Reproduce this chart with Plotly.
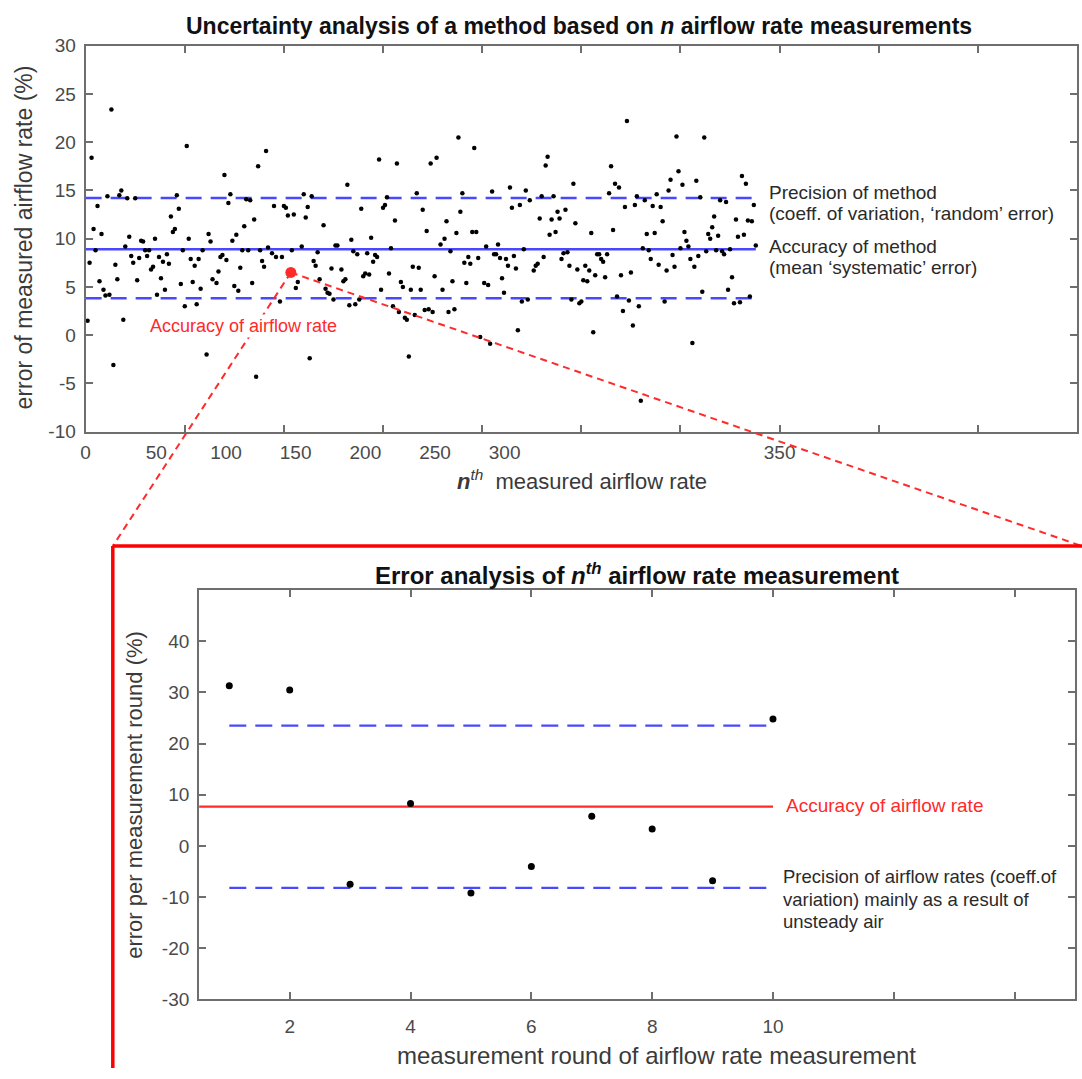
import plotly.graph_objects as go

W, H = 1082, 1079
FONT = "Arial, Liberation Sans, sans-serif"

# ---------------- data: top panel (error of nth measured airflow rate, %) ----------------
# index n = 1..338 ; None = value not readable in the picture
top_err = [
    # n 1-59
    1.5, 7.5, 18.4, 11.0, 8.8, 13.4, 5.6, 10.5, 4.7, 4.1, 14.4, 4.2, 23.4, -3.1, 7.3,
    5.8, 14.5, 15.0, 1.6, 9.2, 14.2, 10.2, 8.2, 7.5, 14.2, 5.7, 8.0, 9.8, 9.7, 8.8,
    8.2, 8.8, 6.8, 7.1, 10.0, 4.2, 8.1, 5.9, 7.6, 4.7, 8.4, 7.4, 12.3, 10.7, 11.0,
    14.5, 13.1, 5.3, 8.8, 3.0, 19.6, 10.0, 7.9, 5.5, 7.2, 3.2, 7.9, 4.8, 8.8,
    # n 60-65
    None, -2.0, 10.5, 9.7, 5.8, None,
    # n 66-92
    5.4, 6.6, 8.1, 8.3, 16.6, 7.8, 13.7, 14.6, 9.8, 5.1, 10.4, 4.6, 7.0, 8.8, 11.3,
    14.1, 8.8, 14.0, 5.4, 12.0, -4.3, 17.5, 8.8, 7.7, 7.1, 19.1, 9.1,
    # n 93-108
    None, 8.5, 13.4, 8.1, None, 3.5, 8.1, 13.4, 13.2, 12.4, None, 8.8, 12.5, 4.9, 5.5, None,
    # n 109-119
    9.2, 14.6, 12.2, 13.3, -2.4, 14.4, 7.7, 7.2, 8.6, 5.8, None,
    # n 120-128
    11.4, 4.8, 4.4, 4.3, 6.9, 3.7, 9.3, 9.3, None,
    # n 129-177
    6.8, 5.6, 5.8, 15.6, 3.1, 9.9, 8.7, 3.2, 8.4, 3.7, 13.1, 6.1, 6.4, 8.5, 6.3,
    10.1, 7.6, 8.3, 8.1, 18.2, 4.7, 13.2, 13.5, 14.3, 6.4, 9.0, 3.0, 11.9, 17.8, 2.4,
    5.5, 5.0, 1.8, 1.6, -2.2, 4.7, 7.1, 2.1, 14.7, 7.0, 4.7, 13.0, 2.6, 10.8, 2.7,
    17.8, 2.4, 6.1, 18.4,
    # n 178-200
    None, 9.4, 4.7, 10.0, 11.8, 2.4, 8.7, 5.6, 2.7, 10.6, 20.5, 12.8, 14.7, 7.5, 5.4,
    8.1, 7.4, 10.7, 19.4, 10.7, 8.0, -0.2, None,
    # n 201-225
    5.4, 9.2, 5.2, -0.9, 14.9, 8.4, 8.4, 9.4, 8.0, 5.9, 4.4, 7.9, 7.2, 15.3, 13.2,
    8.2, 6.9, 0.5, 13.5, 3.5, 8.9, 15.0, 3.7, 14.0, None,
    # n 226-236
    6.7, 7.2, 7.4, 12.1, 14.4, 8.1, 17.6, 18.5, 10.4, 12.0, 14.4,
    # n 237-295
    10.7, 12.8, 12.1, 7.9, 8.5, 13.0, 8.6, 7.2, 3.7, 15.7, 11.6, 6.8, 3.3, 3.5, 5.7,
    7.2, 5.6, 6.7, 10.6, 0.3, 6.2, 8.4, 8.4, 7.9, 7.6, 6.0, 8.4, 14.7, 17.5, 10.9,
    15.7, 4.0, 15.3, 6.2, 2.5, 13.3, 22.2, 3.6, 6.5, 1.0, 13.5, 14.4, 3.0, -6.8, 9.0,
    14.0, 10.5, 8.8, 7.9, 13.4, 10.6, 14.6, 7.3, 13.3, 11.8, 3.5, 6.7, 15.0, 16.1,
    # n 296-338
    8.3, 7.1, 20.6, 17.0, 9.0, 15.6, 10.7, 9.8, 9.2, 7.9, -0.8, 7.1, 16.0, 8.2, 14.3,
    4.5, 20.5, 8.7, 10.5, 10.0, 11.2, 12.3, 8.8, 10.3, 14.0, 8.7, 8.4, 13.8, 4.7, 8.9,
    6.0, 3.3, 12.0, 10.2, 3.4, 16.5, 10.4, 15.7, 11.9, 4.0, 11.8, 13.5, 9.3,
]
assert len(top_err) == 338, len(top_err)
top_n = list(range(1, len(top_err) + 1))

# highlighted measurement (n-th airflow rate)
sel_n = 103.5
sel_err = 6.5

# method statistics (top panel)
method_mean = 8.9
method_upper = 14.23
method_lower = 3.83
method_line_end = 338

# tick labels of top x axis (as printed, positions where they appear)
top_xlabel_pos = [0, 35.6, 70.8, 105.9, 141.1, 176.2, 211.3, 350]
top_xlabel_txt = ["0", "50", "100", "150", "200", "250", "300", "350"]
top_xtick_vals = list(range(0, 501, 50))
top_ytick_vals = list(range(-10, 31, 5))
top_ytick_txt = ["-10", "-5", "0", "5", "10", "15", "20", "25", "30"]

# ---------------- data: bottom panel (error per measurement round, %) ----------------
round_no = [1, 2, 3, 4, 5, 6, 7, 8, 9, 10]
round_err = [31.3, 30.5, -7.5, 8.3, -9.2, -4.0, 5.8, 3.3, -6.8, 24.8]
round_mean = 7.7
round_upper = 23.5
round_lower = -8.2

bot_xlabel_vals = [2, 4, 6, 8, 10]
bot_xlabel_txt = ["2", "4", "6", "8", "10"]
bot_xminor_vals = [12, 14]
bot_ytick_vals = [-30, -20, -10, 0, 10, 20, 30, 40]
bot_ytick_txt = ["-30", "-20", "-10", "0", "10", "20", "30", "40"]

# ---------------- layout geometry ----------------
top_xdom = [81 / W, 1077 / W]
top_ydom = [1 - 430 / H, 1 - 36.5 / H]
top_xr = [0, 500]
top_yr = [-10, 30]
bot_xdom = [195 / W, 1075 / W]
bot_ydom = [1 - 1009 / H, 1 - 591.7 / H]
bot_xr = [0.5, 15]
bot_yr = [-30, 50]

BLUE = "#4848ff"
RED = "#ff2a2a"
AX = "#6e6e6e"
TICKFONT = dict(family=FONT, size=19, color="#4a4a4a")

fig = go.Figure()

# top panel
for yv, dash in [(method_upper, "16px,9px"), (method_mean, "solid"), (method_lower, "16px,9px")]:
    fig.add_trace(go.Scatter(x=[0, method_line_end], y=[yv, yv], mode="lines",
                             line=dict(color=BLUE, width=2.5, dash=dash),
                             xaxis="x", yaxis="y", hoverinfo="skip", showlegend=False))
fig.add_trace(go.Scatter(x=top_n, y=top_err, mode="markers",
                         marker=dict(color="black", size=4.5),
                         xaxis="x", yaxis="y", hoverinfo="skip", showlegend=False))
fig.add_trace(go.Scatter(x=[sel_n], y=[sel_err], mode="markers",
                         marker=dict(color=RED, size=11),
                         xaxis="x", yaxis="y", hoverinfo="skip", showlegend=False))
# invisible trace carrying the tick-label axis
fig.add_trace(go.Scatter(x=[0], y=[0], mode="markers", marker=dict(opacity=0),
                         xaxis="x3", yaxis="y", hoverinfo="skip", showlegend=False))

# bottom panel
fig.add_trace(go.Scatter(x=[round_no[0], round_no[-1]], y=[round_upper, round_upper], mode="lines",
                         line=dict(color=BLUE, width=2.2, dash="17px,9px"),
                         xaxis="x2", yaxis="y2", hoverinfo="skip", showlegend=False))
fig.add_trace(go.Scatter(x=[round_no[0], round_no[-1]], y=[round_lower, round_lower], mode="lines",
                         line=dict(color=BLUE, width=2.2, dash="17px,9px"),
                         xaxis="x2", yaxis="y2", hoverinfo="skip", showlegend=False))
fig.add_trace(go.Scatter(x=[bot_xr[0], round_no[-1]], y=[round_mean, round_mean], mode="lines",
                         line=dict(color=RED, width=2.2),
                         xaxis="x2", yaxis="y2", hoverinfo="skip", showlegend=False))
fig.add_trace(go.Scatter(x=round_no, y=round_err, mode="markers",
                         marker=dict(color="black", size=7),
                         xaxis="x2", yaxis="y2", hoverinfo="skip", showlegend=False))

axis_common = dict(showline=True, linecolor=AX, linewidth=2, mirror="ticks", ticks="inside",
                   ticklen=7, tickwidth=1.6, tickcolor=AX, showgrid=False, zeroline=False,
                   tickfont=TICKFONT)

fig.update_layout(
    width=W, height=H, margin=dict(l=0, r=0, t=0, b=0),
    paper_bgcolor="white", plot_bgcolor="white",
    font=dict(family=FONT),
    xaxis=dict(domain=top_xdom, range=top_xr, anchor="y", tickvals=top_xtick_vals,
               showticklabels=False, **axis_common),
    xaxis3=dict(overlaying="x", anchor="y", range=top_xr, side="bottom",
                tickvals=top_xlabel_pos, ticktext=top_xlabel_txt, ticks="",
                showline=False, showgrid=False, zeroline=False,
                tickfont=TICKFONT, ticklabelstandoff=7),
    yaxis=dict(domain=top_ydom, range=top_yr, anchor="x", tickvals=top_ytick_vals,
               ticktext=top_ytick_txt, ticklabelstandoff=4, **axis_common),
    xaxis2=dict(domain=bot_xdom, range=bot_xr, anchor="y2", tickvals=bot_xlabel_vals,
                ticktext=bot_xlabel_txt, ticklabelstandoff=9,
                minor=dict(tickvals=bot_xminor_vals, ticks="inside", ticklen=7,
                           tickwidth=1.6, tickcolor=AX),
                **axis_common),
    yaxis2=dict(domain=bot_ydom, range=bot_yr, anchor="x2", tickvals=bot_ytick_vals,
                ticktext=bot_ytick_txt, ticklabelstandoff=4, **axis_common),
)

# ---------------- shapes: zoom frame and connecting dashed lines ----------------
def to_paper_top(xv, yv):
    xp = top_xdom[0] + (xv - top_xr[0]) / (top_xr[1] - top_xr[0]) * (top_xdom[1] - top_xdom[0])
    yp = top_ydom[0] + (yv - top_yr[0]) / (top_yr[1] - top_yr[0]) * (top_ydom[1] - top_ydom[0])
    return xp, yp

dot_x, dot_y = to_paper_top(sel_n, sel_err)
frame_left = 108.3 / W
frame_top = 1 - 546.7 / H

shapes = [
    dict(type="line", xref="paper", yref="paper", x0=dot_x, y0=dot_y, x1=frame_left, y1=frame_top,
         line=dict(color=RED, width=2, dash="7px,5px"), layer="above"),
    dict(type="line", xref="paper", yref="paper", x0=dot_x, y0=dot_y, x1=1.0, y1=frame_top,
         line=dict(color=RED, width=2, dash="7px,5px"), layer="above"),
    dict(type="line", xref="paper", yref="paper", x0=frame_left, y0=frame_top, x1=1.0, y1=frame_top,
         line=dict(color="#ff0000", width=3.5), layer="above"),
    dict(type="line", xref="paper", yref="paper", x0=frame_left, y0=frame_top, x1=frame_left, y1=0,
         line=dict(color="#ff0000", width=3.5), layer="above"),
]
fig.update_layout(shapes=shapes)

TXT = "#2a2a2a"
AXT = "#3a3a3a"
ann = [
    dict(text="<b>Uncertainty analysis of a method based on <i>n</i> airflow rate measurements</b>",
         x=577 / W, y=1 - 16 / H, font=dict(size=23, color="#111")),
    dict(text="error of measured airflow rate (%)", x=20 / W, y=1 - 232 / H, textangle=-90,
         font=dict(size=23, color=AXT)),
    dict(text="<b><i>n</i></b><sup><i>th</i></sup>  measured airflow rate", x=580 / W, y=1 - 479 / H,
         font=dict(size=22, color=AXT)),
    dict(text="Precision of method", x=766 / W, y=1 - 186 / H, xanchor="left",
         font=dict(size=19, color=TXT)),
    dict(text="(coeff. of variation, \u2018random\u2019 error)", x=766 / W, y=1 - 208 / H,
         xanchor="left", font=dict(size=19, color=TXT)),
    dict(text="Accuracy of method", x=766 / W, y=1 - 241 / H, xanchor="left",
         font=dict(size=19, color=TXT)),
    dict(text="(mean \u2018systematic\u2019 error)", x=766 / W, y=1 - 263 / H, xanchor="left",
         font=dict(size=19, color=TXT)),
    dict(text="Accuracy of airflow rate", x=240 / W, y=1 - 322 / H, bgcolor="white",
         font=dict(size=18, color=RED)),
    dict(text="<b>Error analysis of <i>n<sup>th</sup></i> airflow rate measurement</b>",
         x=635 / W, y=1 - 575 / H, font=dict(size=24, color="#111")),
    dict(text="error per measurement round (%)", x=130 / W, y=1 - 800 / H, textangle=-90,
         font=dict(size=22, color=AXT)),
    dict(text="measurement round of airflow rate measurement", x=655 / W, y=1 - 1066 / H,
         font=dict(size=24, color=AXT)),
    dict(text="Accuracy of airflow rate", x=783 / W, y=1 - 811 / H, xanchor="left",
         font=dict(size=19, color=RED)),
    dict(text="Precision of airflow rates (coeff.of", x=780 / W, y=1 - 884 / H, xanchor="left",
         font=dict(size=18.5, color=TXT)),
    dict(text="variation) mainly as a result of", x=780 / W, y=1 - 907 / H, xanchor="left",
         font=dict(size=18.5, color=TXT)),
    dict(text="unsteady air", x=780 / W, y=1 - 930 / H, xanchor="left",
         font=dict(size=18.5, color=TXT)),
]
for a in ann:
    a.setdefault("xref", "paper")
    a.setdefault("yref", "paper")
    a.setdefault("showarrow", False)
    a.setdefault("xanchor", "center")
    a.setdefault("yanchor", "middle")
    a["font"]["family"] = FONT
fig.update_layout(annotations=ann)

fig.write_html("out.html")
